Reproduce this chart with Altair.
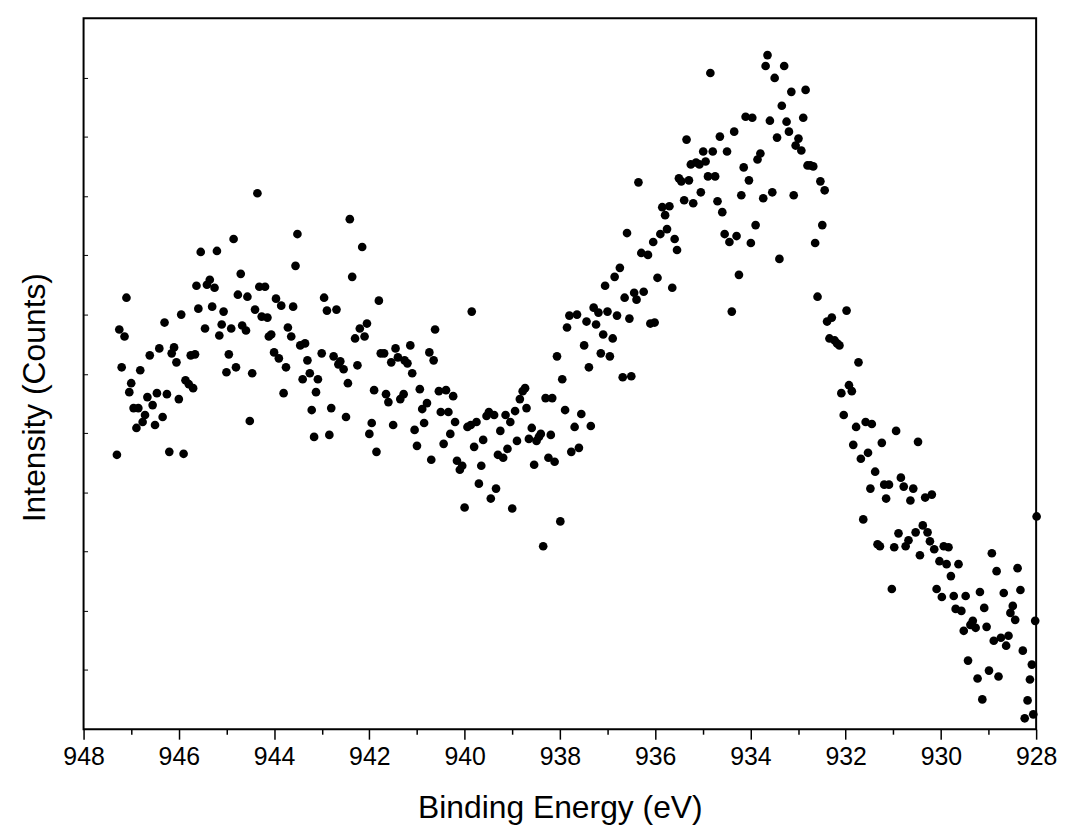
import altair as alt
import pandas as pd

binding_energy = [
    947.30, 947.25, 947.20, 947.14, 947.10, 947.04, 947.00, 946.95, 946.89, 946.85,
    946.81, 946.76, 946.71, 946.66, 946.61, 946.55, 946.50, 946.46, 946.41, 946.34,
    946.30, 946.25, 946.20, 946.15, 946.10, 946.05, 946.00, 945.95, 945.90, 945.86,
    945.79, 945.75, 945.70, 945.66, 945.63, 945.59, 945.54, 945.45, 945.41, 945.35,
    945.30, 945.25, 945.20, 945.15, 945.10, 945.06, 945.00, 944.95, 944.90, 944.85,
    944.80, 944.76, 944.70, 944.67, 944.59, 944.56, 944.51, 944.46, 944.40, 944.35,
    944.31, 944.26, 944.19, 944.14, 944.11, 944.06, 944.00, 943.96, 943.90, 943.85,
    943.80, 943.75, 943.71, 943.64, 943.60, 943.55, 943.51, 943.45, 943.40, 943.35,
    943.30, 943.25, 943.21, 943.16, 943.12, 943.08, 943.00, 942.95, 942.89, 942.84,
    942.80, 942.75, 942.69, 942.65, 942.61, 942.54, 942.49, 942.45, 942.41, 942.36,
    942.30, 942.25, 942.20, 942.15, 942.10, 942.05, 942.00, 941.95, 941.90, 941.85,
    941.80, 941.76, 941.69, 941.65, 941.60, 941.54, 941.50, 941.45, 941.40, 941.35,
    941.28, 941.26, 941.20, 941.14, 941.10, 941.05, 941.00, 940.94, 940.89, 940.85,
    940.79, 940.74, 940.70, 940.65, 940.62, 940.54, 940.50, 940.44, 940.39, 940.34,
    940.30, 940.24, 940.20, 940.16, 940.10, 940.05, 940.00, 939.94, 939.87, 939.85,
    939.80, 939.75, 939.70, 939.65, 939.61, 939.54, 939.49, 939.45, 939.38, 939.34,
    939.30, 939.25, 939.19, 939.14, 939.10, 939.04, 939.00, 938.94, 938.90, 938.84,
    938.78, 938.73, 938.70, 938.65, 938.59, 938.54, 938.49, 938.44, 938.40, 938.35,
    938.30, 938.24, 938.19, 938.16, 938.11, 938.06, 937.99, 937.95, 937.89, 937.85,
    937.80, 937.76, 937.69, 937.64, 937.60, 937.55, 937.49, 937.44, 937.39, 937.35,
    937.29, 937.24, 937.19, 937.14, 937.09, 937.05, 937.00, 936.95, 936.89, 936.85,
    936.80, 936.74, 936.68, 936.64, 936.59, 936.54, 936.50, 936.44, 936.39, 936.35,
    936.29, 936.24, 936.15, 936.10, 936.04, 936.01, 935.95, 935.89, 935.85, 935.79,
    935.75, 935.70, 935.64, 935.59, 935.54, 935.50, 935.45, 935.39, 935.34, 935.29,
    935.25, 935.20, 935.14, 935.07, 935.04, 934.99, 934.94, 934.89, 934.84, 934.79,
    934.74, 934.69, 934.64, 934.59, 934.54, 934.49, 934.44, 934.39, 934.34, 934.29,
    934.24, 934.19, 934.14, 934.10, 934.03, 933.99, 933.96, 933.89, 933.85, 933.79,
    933.73, 933.68, 933.64, 933.59, 933.54, 933.49, 933.44, 933.39, 933.34, 933.29,
    933.24, 933.19, 933.14, 933.09, 933.05, 932.99, 932.93, 932.89, 932.84, 932.80,
    932.74, 932.68, 932.64, 932.59, 932.53, 932.49, 932.44, 932.39, 932.34, 932.29,
    932.23, 932.18, 932.13, 932.09, 932.04, 931.98, 931.93, 931.87, 931.84, 931.78,
    931.73, 931.68, 931.63, 931.58, 931.53, 931.48, 931.45, 931.38, 931.33, 931.28,
    931.24, 931.19, 931.15, 931.09, 931.03, 930.98, 930.94, 930.89, 930.84, 930.78,
    930.74, 930.68, 930.64, 930.58, 930.53, 930.48, 930.44, 930.38, 930.33, 930.28,
    930.23, 930.19, 930.14, 930.09, 930.03, 929.98, 929.94, 929.88, 929.84, 929.79,
    929.73, 929.69, 929.63, 929.57, 929.52, 929.48, 929.43, 929.38, 929.33, 929.27,
    929.23, 929.18, 929.13, 929.09, 929.04, 928.99, 928.93, 928.89, 928.83, 928.79,
    928.74, 928.68, 928.63, 928.58, 928.54, 928.49, 928.44, 928.39, 928.33, 928.28,
    928.24, 928.18, 928.13, 928.09, 928.06, 928.02, 927.99,
]

intensity = [
    276, 402, 364, 395, 434, 339, 348, 323, 303, 323,
    361, 309, 316, 334, 376, 326, 306, 338, 383, 314,
    409, 337, 279, 378, 384, 369, 332, 417, 277, 351,
    347, 376, 343, 377, 446, 423, 480, 403, 447, 452,
    425, 444, 481, 396, 407, 420, 359, 377, 403, 493,
    364, 437, 458, 406, 401, 435, 310, 358, 422, 539,
    445, 415, 445, 414, 395, 397, 379, 433, 373, 426,
    338, 364, 404, 395, 425, 466, 498, 386, 352, 388,
    371, 358, 321, 294, 339, 352, 378, 434, 421, 296,
    323, 375, 422, 367, 370, 362, 314, 348, 513, 455,
    393, 366, 403, 485, 395, 408, 297, 308, 341, 279,
    431, 378, 378, 337, 329, 369, 306, 383, 374, 332,
    337, 371, 368, 386, 358, 301, 285, 342, 322, 308,
    328, 379, 271, 371, 402, 340, 319, 287, 341, 319,
    297, 335, 309, 270, 261, 265, 223, 304, 306, 420,
    284, 309, 247, 265, 291, 315, 319, 232, 316, 242,
    276, 300, 273, 316, 282, 309, 222, 320, 290, 332,
    340, 343, 323, 292, 303, 266, 290, 294, 297, 184,
    333, 273, 296, 333, 269, 375, 209, 352, 321, 404,
    416, 279, 304, 417, 283, 317, 386, 410, 364, 305,
    424, 407, 419, 378, 397, 446, 420, 375, 393, 455,
    416, 464, 354, 434, 499, 413, 355, 439, 432, 550,
    479, 440, 477, 408, 490, 409, 454, 498, 525, 517,
    503, 526, 444, 493, 482, 554, 551, 532, 593, 552,
    568, 529, 570, 568, 540, 581, 571, 556, 660, 581,
    556, 531, 596, 520, 498, 581, 490, 420, 601, 496,
    457, 537, 565, 616, 552, 489, 615, 507, 573, 579,
    534, 667, 678, 612, 540, 655, 595, 473, 627, 667,
    611, 601, 641, 537, 587, 594, 582, 615, 643, 567,
    567, 566, 489, 435, 551, 507, 542, 410, 393, 414,
    391, 388, 386, 338, 316, 421, 346, 340, 286, 304,
    369, 272, 211, 309, 278, 242, 307, 259, 186, 184,
    288, 246, 232, 246, 141, 183, 300, 197, 253, 244,
    184, 190, 230, 242, 198, 289, 175, 205, 233, 198,
    189, 236, 181, 141, 169, 133, 184, 166, 183, 154,
    134, 121, 166, 119, 99, 134, 69, 105, 109, 102,
    51, 138, 30, 122, 103, 59, 177, 89, 159, 53,
    92, 137, 84, 94, 117, 124, 110, 162, 140, 79,
    11, 29, 50, 65, 15, 109, 214,
]

x_major_ticks = [948, 946, 944, 942, 940, 938, 936, 934, 932, 930, 928]
x_minor_ticks = [947, 945, 943, 941, 939, 937, 935, 933, 931, 929]
y_ticks = [i * 715 / 12 for i in range(1, 12)]

df = pd.DataFrame({"be": binding_energy, "counts": intensity})

FONT = "Liberation Sans"
xscale = alt.Scale(domain=[948, 928], nice=False, zero=False)
yscale = alt.Scale(domain=[0, 715], nice=False, zero=False)

y_axis = alt.Axis(orient="left", values=y_ticks, labels=False, tickSize=4, offset=-4,
                  tickWidth=1, tickColor="black", domain=False, grid=False,
                  title="Intensity (Counts)", titleFont=FONT, titleFontSize=32,
                  titleFontWeight="normal", titleColor="black", titleAngle=270,
                  titleAlign="center", titleBaseline="middle", titleX=-53, titleY=381)

minor = alt.Chart(df).mark_circle(opacity=0).encode(
    x=alt.X("be:Q", scale=xscale,
            axis=alt.Axis(orient="bottom", values=x_minor_ticks, labels=False, title=None,
                          tickSize=5, tickWidth=1.5, tickColor="black", domain=False, grid=False)),
    y=alt.Y("counts:Q", scale=yscale, axis=y_axis),
)

points = alt.Chart(df).mark_circle(size=76, color="black", opacity=1).encode(
    x=alt.X("be:Q", scale=xscale,
            axis=alt.Axis(orient="bottom", values=x_major_ticks, format="d",
                          title="Binding Energy (eV)", tickSize=10, tickWidth=1.5,
                          tickColor="black", domain=False, grid=False,
                          labelFont=FONT, labelFontSize=25, labelColor="black", labelPadding=5,
                          labelFlush=False, labelOverlap=False,
                          titleFont=FONT, titleFontSize=32, titleFontWeight="normal",
                          titleColor="black", titleBaseline="alphabetic", titleY=89)),
    y=alt.Y("counts:Q", scale=yscale, axis=y_axis),
)

chart = alt.layer(minor, points).resolve_axis(x="independent").properties(
    width=958, height=715,
    padding={"left": 76, "top": 8, "right": 25, "bottom": 99},
    autosize=alt.AutoSizeParams(type="none"),
    background="white",
).configure_view(stroke="black", strokeWidth=2)

chart.save("out.html", embed_options={"renderer": "svg", "actions": False})
